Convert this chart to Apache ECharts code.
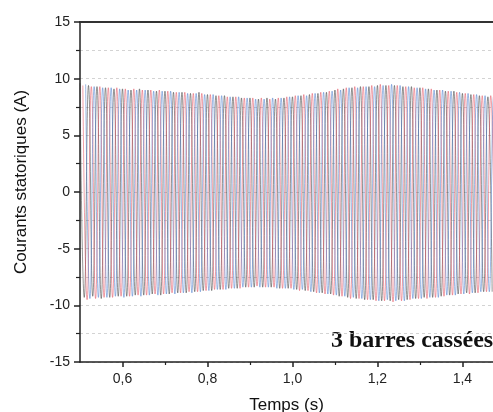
<!DOCTYPE html>
<html>
<head>
<meta charset="utf-8">
<script src="https://cdn.jsdelivr.net/npm/echarts@6/dist/echarts.min.js"></script>
<style>
  html, body { margin: 0; padding: 0; background: #fff; }
  #chart { width: 493px; height: 412px; }
</style>
</head>
<body>
<div id="chart"></div>
<script>
// peak values of each half cycle (A)
var tStart = 0.5;       // s
var halfPeriod = 0.01;  // 50 Hz supply
var phaseShift = [0, 0.02 / 3, 0.04 / 3];

var phaseA = [
  9.6,-9.3,9.4,-9.2,9.3,-9.4,9.2,-9.3,9.1,-9.2,
  9.1,-9.2,9.0,-9.1,9.1,-9.1,9.0,-9.0,8.9,-9.1,
  8.9,-9.0,8.8,-8.9,8.8,-8.9,8.7,-8.8,8.8,-8.7,
  8.6,-8.7,8.5,-8.6,8.5,-8.5,8.4,-8.5,8.3,-8.4,
  8.3,-8.4,8.2,-8.4,8.3,-8.4,8.2,-8.5,8.3,-8.5,
  8.4,-8.6,8.5,-8.7,8.6,-8.8,8.7,-8.9,8.8,-9.0,
  9.0,-9.2,9.1,-9.3,9.2,-9.4,9.3,-9.5,9.3,-9.5,
  9.4,-9.6,9.4,-9.6,9.4,-9.5,9.3,-9.5,9.3,-9.4,
  9.2,-9.3,9.1,-9.3,9.0,-9.2,8.9,-9.1,8.9,-9.0,
  8.7,-8.9,8.6,-8.9,8.5,-8.8,8.4,-8.8
];
var phaseB = [
  9.4,-9.5,9.3,-9.4,9.3,-9.3,9.2,-9.3,9.2,-9.2,
  9.1,-9.2,9.1,-9.1,9.0,-9.1,9.0,-9.0,9.0,-9.0,
  8.9,-8.9,8.8,-8.9,8.8,-8.8,8.7,-8.8,8.7,-8.7,
  8.6,-8.6,8.5,-8.6,8.4,-8.5,8.4,-8.5,8.3,-8.4,
  8.3,-8.3,8.3,-8.4,8.2,-8.4,8.3,-8.5,8.4,-8.5,
  8.5,-8.7,8.6,-8.7,8.7,-8.9,8.8,-9.0,8.9,-9.1,
  9.1,-9.2,9.2,-9.4,9.3,-9.4,9.3,-9.5,9.4,-9.6,
  9.5,-9.6,9.4,-9.7,9.4,-9.6,9.3,-9.5,9.2,-9.4,
  9.2,-9.4,9.1,-9.3,9.0,-9.2,8.9,-9.1,8.8,-9.0,
  8.7,-9.0,8.6,-8.9,8.5,-8.8,8.5,-8.7
];
var phaseC = [
  9.5,-9.4,9.3,-9.3,9.2,-9.3,9.2,-9.2,9.1,-9.3,
  9.0,-9.2,9.0,-9.2,9.0,-9.1,8.9,-9.1,8.9,-9.0,
  8.9,-9.0,8.8,-8.9,8.7,-8.9,8.7,-8.8,8.6,-8.7,
  8.6,-8.6,8.5,-8.6,8.4,-8.5,8.4,-8.4,8.3,-8.4,
  8.2,-8.4,8.2,-8.4,8.3,-8.5,8.3,-8.5,8.4,-8.6,
  8.5,-8.6,8.5,-8.8,8.7,-8.9,8.8,-9.0,8.9,-9.1,
  9.0,-9.2,9.2,-9.3,9.2,-9.4,9.3,-9.5,9.3,-9.6,
  9.4,-9.5,9.5,-9.6,9.4,-9.6,9.3,-9.4,9.2,-9.4,
  9.1,-9.3,9.0,-9.3,9.0,-9.1,8.9,-9.1,8.8,-9.0,
  8.7,-8.9,8.6,-8.8,8.5,-8.8,8.4,-8.7
];

var xLabels = [0.6, 0.8, 1.0, 1.2, 1.4];
var xMinor = [0.7, 0.9, 1.1, 1.3];

function toPoints(peaks, shift) {
  return peaks.map(function (v, k) {
    return [tStart + shift + k * halfPeriod, v];
  });
}

var chart = echarts.init(document.getElementById('chart'));

var font = 'Liberation Sans, Arial, sans-serif';
var xMax = 1.472; // the picture is cut off on the right

var option = {
  animation: false,
  backgroundColor: '#fff',
  grid: { left: 80, top: 22, right: 0, bottom: 50, outerBoundsMode: 'none' },
  xAxis: [{
    type: 'value',
    min: 0.5, max: xMax,
    position: 'bottom',
    name: 'Temps (s)',
    nameLocation: 'middle',
    nameGap: 35,
    nameTextStyle: { fontFamily: font, fontSize: 17, color: '#111' },
    axisLine: { onZero: false, lineStyle: { color: '#222', width: 1.5 } },
    axisTick: { customValues: xLabels, length: 5, lineStyle: { color: '#222', width: 1.5 } },
    axisLabel: {
      customValues: xLabels,
      margin: 10,
      fontFamily: font, fontSize: 14, color: '#222',
      formatter: function (v) { return v.toFixed(1).replace('.', ','); }
    },
    splitLine: { show: false }
  }, {
    type: 'value',
    min: 0.5, max: xMax,
    position: 'bottom',
    axisLine: { onZero: false, show: false },
    axisTick: { customValues: xMinor, length: 3, lineStyle: { color: '#222', width: 1.2 } },
    axisLabel: { show: false },
    splitLine: { show: false }
  }, {
    type: 'value',
    min: 0.5, max: xMax,
    position: 'top',
    axisLine: { onZero: false, lineStyle: { color: '#333', width: 2 } },
    axisTick: { show: false },
    axisLabel: { show: false },
    splitLine: { show: false }
  }],
  yAxis: {
    type: 'value',
    min: -15, max: 15, interval: 5,
    axisLine: { show: true, lineStyle: { color: '#222', width: 1.5 } },
    axisTick: { show: true, length: 6, lineStyle: { color: '#222', width: 1.5 } },
    minorTick: { show: true, splitNumber: 2, length: 4, lineStyle: { color: '#222', width: 1.2 } },
    axisLabel: { margin: 10, fontFamily: font, fontSize: 14, color: '#222' },
    splitLine: { show: true, lineStyle: { color: '#c8c8c8', type: [3, 3], width: 0.8 } },
    minorSplitLine: { show: true, lineStyle: { color: '#c8c8c8', type: [3, 3], width: 0.8 } }
  },
  series: [
    {
      name: 'ia', type: 'line', showSymbol: false, smooth: 0.5, xAxisIndex: 0,
      lineStyle: { color: '#333', width: 0.7, opacity: 0.75 },
      data: toPoints(phaseA, phaseShift[0])
    },
    {
      name: 'ib', type: 'line', showSymbol: false, smooth: 0.5, xAxisIndex: 0,
      lineStyle: { color: '#e04050', width: 0.7, opacity: 0.7 },
      data: toPoints(phaseB, phaseShift[1])
    },
    {
      name: 'ic', type: 'line', showSymbol: false, smooth: 0.5, xAxisIndex: 0,
      lineStyle: { color: '#3a70c8', width: 0.7, opacity: 0.7 },
      data: toPoints(phaseC, phaseShift[2])
    }
  ],
  graphic: [{
    type: 'text',
    x: 21,
    y: 182,
    rotation: Math.PI / 2,
    style: {
      text: 'Courants statoriques (A)',
      font: '17px "Liberation Sans", Arial, sans-serif',
      fill: '#111',
      align: 'center',
      verticalAlign: 'middle'
    }
  }, {
    type: 'text',
    left: 331,
    top: 329,
    style: {
      text: '3 barres cassées',
      font: 'bold 24px "Liberation Serif", "Times New Roman", serif',
      fill: '#111'
    }
  }]
};

chart.setOption(option);
</script>
</body>
</html>
